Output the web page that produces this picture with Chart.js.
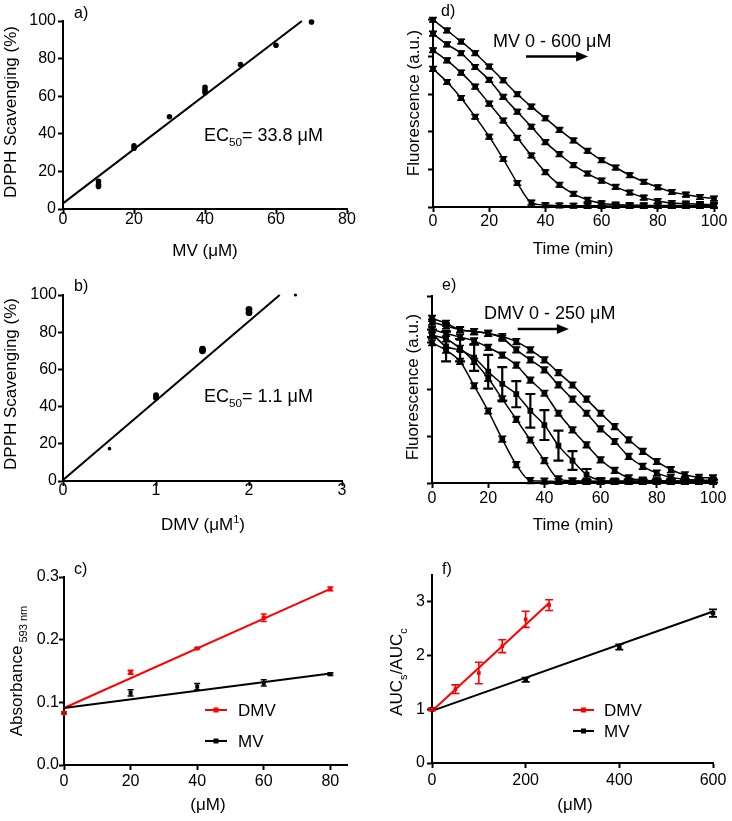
<!DOCTYPE html>
<html>
<head>
<meta charset="utf-8">
<script src="https://cdn.jsdelivr.net/npm/chart.js@4.4.1/dist/chart.umd.min.js"></script>
<style>
  html, body { margin: 0; padding: 0; background: #fff; }
  #wrap { position: relative; width: 732px; height: 821px; }
  #wrap canvas { position: absolute; left: 0; top: 0; }
</style>
</head>
<body>
<div id="wrap">
  <canvas id="ca" width="732" height="821"></canvas>
  <canvas id="cb" width="732" height="821"></canvas>
  <canvas id="cc" width="732" height="821"></canvas>
  <canvas id="cd" width="732" height="821"></canvas>
  <canvas id="ce" width="732" height="821"></canvas>
  <canvas id="cf" width="732" height="821"></canvas>
</div>
<script>
// ---- a) DPPH scavenging, MV
const aDose = [10, 10, 10, 20, 20, 30, 40, 40, 40, 50, 60, 70];
const aScav = [14.7, 12.9, 12.0, 33.6, 32.3, 49.1, 64.7, 63.3, 62.0, 76.9, 87.1, 99.5];
const aFitX = [0, 67.3];
const aFitY = [3, 100];
const aXTicks = [0, 20, 40, 60, 80];
const aYTicks = [0, 20, 40, 60, 80, 100];

// ---- b) DPPH scavenging, DMV
const bDose = [0.5, 1, 1, 1.5, 1.5, 2, 2, 2.5];
const bScav = [17.4, 46.1, 44.7, 70.9, 70.0, 92.3, 90.5, 100];
const bFitX = [0, 2.33];
const bFitY = [0.5, 100];
const bXTicks = [0, 1, 2, 3];
const bYTicks = [0, 20, 40, 60, 80, 100];

// ---- c) FRAP absorbance
const cDose = [0, 20, 40, 60, 80];
const cDMV = [0.083, 0.148, 0.186, 0.235, 0.281];
const cDMVErr = [0.002, 0.003, 0.001, 0.006, 0.003];
const cMV = [0.083, 0.115, 0.125, 0.131, 0.145];
const cMVErr = [0.002, 0.005, 0.005, 0.005, 0.002];
const cFitX = [0, 80];
const cFitDMV = [0.091, 0.281];
const cFitMV = [0.091, 0.146];
const cXTicks = [0, 20, 40, 60, 80];
const cYTicks = [0, 0.1, 0.2, 0.3];

// ---- d) / e) fluorescence decay, time in min
const timeMin = [0, 5, 10, 15, 20, 25, 30, 35, 40, 45, 50, 55, 60, 65, 70, 75, 80, 85, 90, 95, 100];
const dMV0 = [73.5, 66.5, 58, 48, 37.4, 25.5, 12.8, 2.3, 1.0, 0.8, 0.7, 0.6, 0.6, 0.5, 0.5, 0.5, 0.5, 0.5, 0.5, 0.5, 0.5];
const dMV200 = [83.4, 78, 71.5, 64, 55, 46, 36.8, 27.4, 18.5, 11.8, 7.0, 3.8, 2.0, 1.3, 1.0, 0.9, 0.8, 0.8, 0.8, 0.8, 0.8];
const dMV400 = [92.2, 86.5, 81.8, 74.5, 67.6, 58.6, 50.7, 42.7, 34.5, 28.1, 22.3, 17.8, 14.0, 10.7, 7.7, 5.0, 3.2, 2.1, 1.8, 1.5, 1.2];
const dMV600 = [99.6, 93.9, 88, 81.8, 74.7, 67.4, 60, 53.4, 47.2, 41, 35.4, 29.9, 24.9, 21, 16.9, 13.4, 10.5, 8.0, 6.6, 5.3, 4.5];
const dErr = 1.2;
const dXTicks = [0, 20, 40, 60, 80, 100];
const dYTicks = [0, 20, 40, 60, 80, 100];

const eDMV0 = [75, 71, 65, 52, 38.5, 23.5, 9.8, 1.3, 1.0, 0.8, 0.8, 0.8, 0.8, 0.8, 0.8, 0.8, 0.8, 0.8, 0.8, 0.8, 0.8];
const eDMV50 = [79, 77, 72, 65, 56, 45, 34, 23, 12, 2.2, 1.2, 1.0, 1.0, 1.0, 1.0, 1.0, 1.0, 1.0, 1.0, 1.0, 1.0];
const eDMV100 = [80, 73, 71, 67, 59.5, 53, 47.5, 38.6, 31, 20, 12, 4.5, 1.5, 1.0, 1.0, 1.0, 1.0, 1.0, 1.0, 1.0, 1.0];
const eDMV100Err = [2, 8, 6, 7, 9, 9, 7, 9, 8, 8, 5, 3, 1, 0.8, 0.8, 0.8, 0.8, 0.8, 0.8, 0.8, 0.8];
const eDMV150 = [82, 80, 78, 76, 72.5, 68.4, 63, 55, 48, 37.3, 28.4, 20.4, 12.4, 6.7, 2.7, 1.5, 1.2, 1.0, 1.0, 1.0, 1.0];
const eDMV200 = [86, 84, 82, 81, 80, 77.4, 71.2, 65.8, 60.5, 52.5, 44.8, 37.3, 29, 22.2, 14.2, 8.9, 5.3, 3.0, 2.0, 1.5, 1.4];
const eDMV250 = [88, 85.4, 82, 81, 80, 78.3, 75.6, 71.2, 65.8, 59, 52.4, 44.8, 37.3, 30.2, 23.1, 16.9, 11.5, 7.1, 4.4, 3.0, 2.7];
const eErr = 1.5;
const eXTicks = [0, 20, 40, 60, 80, 100];
const eYTicks = [0, 25, 50, 75, 100];

// ---- f) AUC ratio
const fDoseDMV = [0, 50, 100, 150, 200, 250];
const fDMV = [1.0, 1.375, 1.675, 2.175, 2.675, 2.94];
const fDMVErr = [0.02, 0.08, 0.2, 0.12, 0.15, 0.1];
const fDoseMV = [0, 200, 400, 600];
const fMV = [1.0, 1.55, 2.16, 2.79];
const fMVErr = [0.02, 0.04, 0.05, 0.07];
const fFitDMVX = [0, 250];
const fFitDMV = [0.97, 2.98];
const fFitMVX = [0, 600];
const fFitMV = [0.97, 2.82];
const fXTicks = [0, 200, 400, 600];
const fYTicks = [0, 1, 2, 3];

const FONT = '"Liberation Sans", Arial, sans-serif';
const W = 732, H = 821;
const RED = "#ff0000";

const pts = (xs, ys) => xs.map((x, i) => ({ x, y: ys[i] }));

function drawRich(ctx, parts, x, y, size, align) {
  const fontOf = (p) => `${p[1] ? size * 0.65 : size}px ${FONT}`;
  let w = 0;
  parts.forEach((p) => { ctx.font = fontOf(p); w += ctx.measureText(p[0]).width; });
  let cx = align === "center" ? x - w / 2 : x;
  parts.forEach((p) => {
    ctx.font = fontOf(p);
    const dy = p[1] === "sub" ? size * 0.28 : p[1] === "sup" ? -size * 0.42 : 0;
    ctx.fillText(p[0], cx, y + dy);
    cx += ctx.measureText(p[0]).width;
  });
}

const errorBars = {
  id: "errorBars",
  afterDatasetsDraw(chart) {
    const ctx = chart.ctx;
    const ys = chart.scales.y;
    chart.data.datasets.forEach((ds, i) => {
      if (ds.errors === undefined) return;
      const meta = chart.getDatasetMeta(i);
      const c = ds.capHalf || 4;
      ctx.save();
      ctx.strokeStyle = ds.borderColor;
      ctx.lineWidth = ds.errWidth || 1.6;
      meta.data.forEach((pt, j) => {
        const v = ds.data[j].y;
        const e = Array.isArray(ds.errors) ? ds.errors[j] : ds.errors;
        if (!e) return;
        const top = ys.getPixelForValue(v + e);
        const bot = ys.getPixelForValue(v - e);
        ctx.beginPath();
        ctx.moveTo(pt.x, top); ctx.lineTo(pt.x, bot);
        ctx.moveTo(pt.x - c, top); ctx.lineTo(pt.x + c, top);
        ctx.moveTo(pt.x - c, bot); ctx.lineTo(pt.x + c, bot);
        ctx.stroke();
      });
      ctx.restore();
    });
  },
};

const notesPlugin = {
  id: "notes",
  afterDraw(chart, args, opts) {
    const ctx = chart.ctx;
    ctx.save();
    ctx.fillStyle = "#000";
    ctx.textBaseline = "alphabetic";
    (opts.texts || []).forEach((t) => {
      ctx.save();
      if (t.rot) {
        ctx.translate(t.x, t.y);
        ctx.rotate(-Math.PI / 2);
        drawRich(ctx, t.p, 0, 0, t.size, "center");
      } else {
        drawRich(ctx, t.p, t.x, t.y, t.size, t.align || "left");
      }
      ctx.restore();
    });
    if (opts.arrow) {
      const a = opts.arrow;
      const x1 = chart.scales.x.getPixelForValue(a.from);
      const x2 = chart.scales.x.getPixelForValue(a.to);
      const y = chart.scales.y.getPixelForValue(a.at);
      ctx.strokeStyle = "#000";
      ctx.lineWidth = 2.5;
      ctx.beginPath();
      ctx.moveTo(x1, y); ctx.lineTo(x2 - 9, y);
      ctx.stroke();
      ctx.beginPath();
      ctx.moveTo(x2, y); ctx.lineTo(x2 - 12, y - 5); ctx.lineTo(x2 - 12, y + 5);
      ctx.closePath();
      ctx.fill();
    }
    (opts.legend || []).forEach((l) => {
      ctx.strokeStyle = l.color;
      ctx.fillStyle = l.color;
      ctx.lineWidth = 2;
      ctx.beginPath();
      ctx.moveTo(l.x1, l.y); ctx.lineTo(l.x2, l.y);
      ctx.stroke();
      const m = (l.x1 + l.x2) / 2;
      ctx.fillRect(m - 2.5, l.y - 2.5, 5, 5);
      ctx.fillStyle = "#000";
      drawRich(ctx, [[l.label]], l.tx, l.y + 6, 17, "left");
    });
    ctx.restore();
  },
};

function axis(dir, area, min, max, tickVals, pad, opts = {}) {
  return {
    type: "linear",
    min,
    max,
    afterBuildTicks: (s) => { s.ticks = tickVals.map((v) => ({ value: v })); },
    afterFit: (s) => {
      if (dir === "x") s.height = H - area.b;
      else s.width = area.l;
    },
    grid: { drawOnChartArea: false, drawTicks: true, tickLength: 5, tickWidth: 2, tickColor: "#000" },
    border: { display: true, color: "#000", width: 2 },
    ticks: {
      display: opts.labels !== false,
      padding: pad,
      color: "#000",
      font: { family: FONT, size: 16 },
      callback: opts.fmt || ((v) => String(v)),
    },
  };
}

function panel(id, area, scales, datasets, notes) {
  return new Chart(document.getElementById(id), {
    type: "scatter",
    data: { datasets },
    options: {
      responsive: false,
      animation: false,
      events: [],
      layout: { padding: { left: 0, top: area.t, right: W - area.r, bottom: 0 } },
      scales,
      plugins: { legend: { display: false }, tooltip: { enabled: false }, notes },
    },
    plugins: [errorBars, notesPlugin],
  });
}

const fitLine = (data, color) => ({
  data, showLine: true, borderColor: color, borderWidth: 2, pointRadius: 0, clip: false,
});
const dots = (data, color, style, r, errors, cap) => ({
  data, showLine: false, pointStyle: style, pointRadius: r, backgroundColor: color,
  borderColor: color, borderWidth: 0, clip: false, errors, capHalf: cap,
});
const decay = (data, errors, cap, errWidth) => ({
  data, showLine: true, borderColor: "#000", borderWidth: 1.5, backgroundColor: "#000",
  pointStyle: "rect", pointRadius: 3, borderJoinStyle: "round",
  cubicInterpolationMode: "monotone", clip: false, errors, capHalf: cap || 4, errWidth,
});

// a)
const areaA = { l: 63, t: 21, r: 347, b: 209 };
panel("ca", areaA,
  { x: axis("x", areaA, 0, 80, aXTicks, -4), y: axis("y", areaA, 0, 100, aYTicks, 2) },
  [fitLine(pts(aFitX, aFitY), "#000"), dots(pts(aDose, aScav), "#000", "circle", 2.8)],
  { texts: [
    { p: [["a)"]], x: 74, y: 18, size: 16 },
    { p: [["DPPH Scavenging (%)"]], x: 16, y: 112, size: 17, rot: true },
    { p: [["MV (μM)"]], x: 205, y: 256, size: 17, align: "center" },
    { p: [["EC"], ["50", "sub"], ["= 33.8 μM"]], x: 204, y: 141, size: 18 },
  ] });

// b)
const areaB = { l: 63, t: 295, r: 342, b: 481 };
const bRadius = [1.8, 3, 3, 3.4, 3.4, 3.4, 3.4, 1.6];
const bDots = dots(pts(bDose, bScav), "#000", "circle", 3);
bDots.pointRadius = bRadius;
panel("cb", areaB,
  { x: axis("x", areaB, 0, 3, bXTicks, -5), y: axis("y", areaB, 0, 100, bYTicks, 1) },
  [fitLine(pts(bFitX, bFitY), "#000"), bDots],
  { texts: [
    { p: [["b)"]], x: 74, y: 291, size: 16 },
    { p: [["DPPH Scavenging (%)"]], x: 16, y: 384, size: 17, rot: true },
    { p: [["DMV (μM"], ["1", "sup"], [")"]], x: 203, y: 530, size: 17, align: "center" },
    { p: [["EC"], ["50", "sub"], ["= 1.1 μM"]], x: 204, y: 402, size: 18 },
  ] });

// c)
const areaC = { l: 64, t: 577, r: 347, b: 765 };
panel("cc", areaC,
  { x: axis("x", areaC, 0, 85, cXTicks, 2),
    y: axis("y", areaC, 0, 0.3, cYTicks, 0, { fmt: (v) => v.toFixed(1) }) },
  [
    fitLine(pts(cFitX, cFitMV), "#000"),
    fitLine(pts(cFitX, cFitDMV), RED),
    dots(pts(cDose, cMV), "#000", "rect", 2.8, cMVErr, 3),
    dots(pts(cDose, cDMV), RED, "rect", 3, cDMVErr, 3),
  ],
  { texts: [
    { p: [["c)"]], x: 74, y: 574, size: 16 },
    { p: [["Absorbance"], [" 593 nm", "sub"]], x: 22, y: 671, size: 17, rot: true },
    { p: [["(μM)"]], x: 208, y: 810, size: 17, align: "center" },
  ],
    legend: [
      { label: "DMV", color: RED, x1: 205, x2: 227, y: 710, tx: 238 },
      { label: "MV", color: "#000", x1: 205, x2: 227, y: 741, tx: 238 },
    ] });

// d)
const areaD = { l: 433, t: 19, r: 714, b: 207 };
panel("cd", areaD,
  { x: axis("x", areaD, 0, 100, dXTicks, 0), y: axis("y", areaD, 0, 100, dYTicks, 0, { labels: false }) },
  [
    decay(pts(timeMin, dMV0), dErr),
    decay(pts(timeMin, dMV200), dErr),
    decay(pts(timeMin, dMV400), dErr),
    decay(pts(timeMin, dMV600), dErr),
  ],
  { texts: [
    { p: [["d)"]], x: 441, y: 16, size: 16 },
    { p: [["Fluorescence (a.u.)"]], x: 419, y: 103, size: 17, rot: true },
    { p: [["Time (min)"]], x: 573, y: 254, size: 17, align: "center" },
    { p: [["MV 0 - 600 μM"]], x: 493, y: 47, size: 18 },
  ],
    arrow: { from: 33.1, to: 55.2, at: 80 } });

// e)
const areaE = { l: 432, t: 296, r: 713, b: 483 };
panel("ce", areaE,
  { x: axis("x", areaE, 0, 100, eXTicks, 1), y: axis("y", areaE, 0, 100, eYTicks, 0, { labels: false }) },
  [
    decay(pts(timeMin, eDMV0), eErr),
    decay(pts(timeMin, eDMV50), eErr),
    decay(pts(timeMin, eDMV100), eDMV100Err, 5, 2.2),
    decay(pts(timeMin, eDMV150), eErr),
    decay(pts(timeMin, eDMV200), eErr),
    decay(pts(timeMin, eDMV250), eErr),
  ],
  { texts: [
    { p: [["e)"]], x: 442, y: 290, size: 16 },
    { p: [["Fluorescence (a.u.)"]], x: 418, y: 387, size: 17, rot: true },
    { p: [["Time (min)"]], x: 573, y: 530, size: 17, align: "center" },
    { p: [["DMV 0 - 250 μM"]], x: 484, y: 319, size: 18 },
  ],
    arrow: { from: 30.5, to: 48.7, at: 82.3 } });

// f)
const areaF = { l: 432, t: 575, r: 713, b: 763 };
panel("cf", areaF,
  { x: axis("x", areaF, 0, 600, fXTicks, 3), y: axis("y", areaF, 0, 3.5, fYTicks, 2) },
  [
    fitLine(pts(fFitMVX, fFitMV), "#000"),
    fitLine(pts(fFitDMVX, fFitDMV), RED),
    dots(pts(fDoseMV, fMV), "#000", "rect", 3.2, fMVErr, 4),
    dots(pts(fDoseDMV, fDMV), RED, "rect", 2.6, fDMVErr, 4),
  ],
  { texts: [
    { p: [["f)"]], x: 442, y: 574, size: 16 },
    { p: [["AUC"], ["s", "sub"], ["/AUC"], ["c", "sub"]], x: 402, y: 672, size: 17, rot: true },
    { p: [["(μM)"]], x: 575, y: 810, size: 17, align: "center" },
  ],
    legend: [
      { label: "DMV", color: RED, x1: 573, x2: 594, y: 710, tx: 604 },
      { label: "MV", color: "#000", x1: 573, x2: 594, y: 731, tx: 604 },
    ] });
</script>
</body>
</html>
